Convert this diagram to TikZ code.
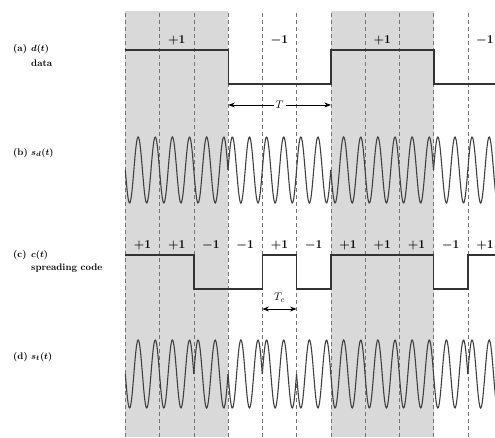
\documentclass[tikz,border=0pt]{standalone}
\usepackage{amsmath}
\usepackage{amssymb}
\usepackage{tikz}
\usetikzlibrary{arrows, arrows.meta}
\newcommand{\chipw}{34.25}
\newcommand{\xstart}{125.3}
\newcommand{\amp}{33}

\begin{document}
\begin{tikzpicture}[x=1pt, y=1pt,
  sig/.style={line width=1.4pt, color=black!80},
  wave/.style={line width=1.1pt, color=black!75},
  chipgrid/.style={dash pattern=on 4pt off 3pt, color=black!55, line width=0.6pt},
  band/.style={fill=black!15},
  lbl/.style={anchor=west, inner sep=0pt, font=\fontsize{9.5}{11}\selectfont\bfseries},
  bitlbl/.style={inner sep=0pt, font=\fontsize{12}{14}\selectfont\bfseries\boldmath},
  dimarrow/.style={Stealth-Stealth, line width=0.8pt}]
  \useasboundingbox (0,0) rectangle (495,437);
  \clip (0,0) rectangle (495,437);

  % Shading of the +1 data bits
  \fill[band] (\xstart,0) rectangle ++({3*\chipw},426);
  \fill[band] ({\xstart+6*\chipw},0) rectangle ++({3*\chipw},426);

  % Chip boundaries
  \foreach \k in {0,...,10}
    \draw[chipgrid] ({\xstart+\k*\chipw},0) -- ++(0,426);

  % Coordinates
  \coordinate (D0) at (125.3, 387);
  \coordinate (D1) at (228.3, 387);
  \coordinate (D2) at (228.3, 353);
  \coordinate (D3) at (331.0, 353);
  \coordinate (D4) at (331.0, 387);
  \coordinate (D5) at (433.8, 387);
  \coordinate (D6) at (433.8, 353);
  \coordinate (D7) at (500.0, 353);
  \coordinate (T1) at (228.3, 332);
  \coordinate (T2) at (331.0, 332);
  \coordinate (C1) at (262.3, 128);
  \coordinate (C2) at (296.6, 128);

  % Labels
  \node[lbl] (la) at (13, 388) {(a)};
  \node[lbl] (lat) at (31, 388) {$\boldsymbol{d(t)}$};
  \node[lbl] (lad) at (31, 374) {data};
  \node[lbl] (lb) at (13, 284) {(b)};
  \node[lbl] (lbt) at (31, 284) {$\boldsymbol{s_d(t)}$};
  \node[lbl] (lc) at (13, 182) {(c)};
  \node[lbl] (lct) at (31, 182) {$\boldsymbol{c(t)}$};
  \node[lbl] (lcd) at (31, 169) {spreading code};
  \node[lbl] (ld) at (13, 80) {(d)};
  \node[lbl] (ldt) at (31, 80) {$\boldsymbol{s_t(t)}$};

  % Data signal
  \draw[sig] (D0) -- (D1) -- (D2) -- (D3) -- (D4) -- (D5) -- (D6) -- (D7);
  \foreach \b [count=\i from 0] in {+,-,+,-}
    \node[bitlbl] (bit\i) at ({\xstart+(3*\i+1.5)*\chipw}, 397) {$\b1$};
  \draw[dimarrow] (T1) -- (T2) node[midway, fill=white, inner sep=2pt, font=\fontsize{11}{12}\selectfont] (tlbl) {$T$};

  % Spreading code
  \draw[sig] (125.3,182) -- (193.8,182) -- (193.8,148) -- (262.3,148) -- (262.3,182)
    -- (296.6,182) -- (296.6,148) -- (330.8,148) -- (330.8,182) -- (433.6,182)
    -- (433.6,148) -- (467.8,148) -- (467.8,182) -- (500,182);
  \foreach \b [count=\i from 0] in {+,+,-,-,+,-,+,+,+,-,+}
    \node[bitlbl] (chip\i) at ({\xstart+(\i+0.5)*\chipw}, 192) {$\b1$};
  \draw[dimarrow] (C1) -- (C2);
  \node[font=\fontsize{11}{12}\selectfont, inner sep=0pt] (tclbl) at (279.4, 139) {$T_c$};

  % Modulated carriers
  \foreach \m [count=\i from 0] in {1,1,1,-1,-1,-1,1,1,1,-1,-1} {
    \pgfmathsetmacro{\xa}{\xstart+\i*\chipw}
    \pgfmathsetmacro{\xb}{\xstart+(\i+1)*\chipw}
    \draw[wave] plot[domain=\xa:\xb, samples=60, smooth]
      (\x, {267-\m*\amp*sin((\x-\xa)/\chipw*720)});
  }
  \foreach \m [count=\i from 0] in {1,1,-1,1,-1,1,1,1,1,1,-1} {
    \pgfmathsetmacro{\xa}{\xstart+\i*\chipw}
    \pgfmathsetmacro{\xb}{\xstart+(\i+1)*\chipw}
    \draw[wave] plot[domain=\xa:\xb, samples=60, smooth]
      (\x, {63-\m*34*sin((\x-\xa)/\chipw*720)});
  }
\end{tikzpicture}
\end{document}
